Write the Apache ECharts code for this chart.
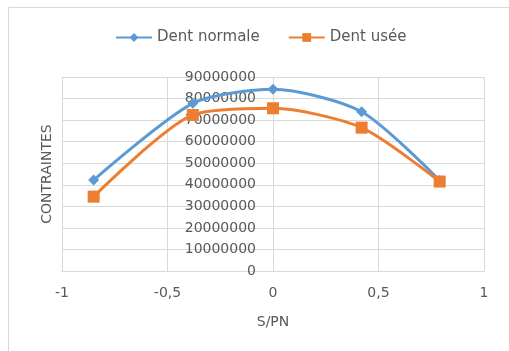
<!DOCTYPE html>
<html><head><meta charset="utf-8">
<script src="https://cdn.jsdelivr.net/npm/echarts@6/dist/echarts.min.js"></script>
<style>html,body{margin:0;padding:0;background:#fff}#c{width:509px;height:351px}</style>
</head><body><div id="c"></div>
<script>
var seriesNames = ['Dent normale', 'Dent usée'];
var xValues = [-0.85, -0.38, 0, 0.42, 0.79];
var normaleValues = [42200000, 77800000, 84300000, 73900000, 42000000];
var useeValues = [34500000, 72400000, 75500000, 66500000, 41500000];
var xTicks = [-1, -0.5, 0, 0.5, 1];

function pairs(xs, ys){ return xs.map(function(x,i){ return [x, ys[i]]; }); }
var font = 'DejaVu Sans';
var gridLeft = 62, gridRight = 25, W = 509;
// y axis sits at x = 0 (middle of the -1..1 range)
var yAxisOffset = -((W - gridLeft - gridRight) / 2);
var chart = echarts.init(document.getElementById('c'));
chart.setOption({
  animation: false,
  textStyle: {fontFamily: font},
  legend: {
    top: 25, left: 110, itemWidth: 36, itemHeight: 11, itemGap: 28,
    textStyle: {fontSize: 15, color: '#595959', fontFamily: font},
    data: seriesNames
  },
  grid: {left: gridLeft, right: gridRight, top: 77, bottom: 80, containLabel: false, outerBoundsMode: 'none'},
  xAxis: {
    type: 'value', min: -1, max: 1, interval: 0.5,
    name: 'S/PN', nameLocation: 'middle', nameGap: 44,
    nameTextStyle: {fontSize: 14, color: '#595959', fontFamily: font},
    axisLine: {show: true, onZero: false, lineStyle: {color: '#d9d9d9'}},
    axisTick: {show: false},
    axisLabel: {fontSize: 14, color: '#595959', margin: 15, fontFamily: font,
      formatter: function(v){ return String(v).replace('.', ','); }},
    splitLine: {show: true, lineStyle: {color: '#d9d9d9'}}
  },
  yAxis: {
    type: 'value', min: 0, max: 90000000, interval: 10000000,
    offset: yAxisOffset,
    name: 'CONTRAINTES', nameLocation: 'middle', nameGap: 219,
    nameTextStyle: {fontSize: 14, color: '#595959', fontFamily: font},
    axisLine: {show: true, onZero: false, lineStyle: {color: '#d9d9d9'}},
    axisTick: {show: false},
    axisLabel: {fontSize: 14, color: '#595959', margin: 17, fontFamily: font,
      formatter: function(v){ return String(v); }},
    splitLine: {show: true, lineStyle: {color: '#d9d9d9'}}
  },
  graphic: [
    {type: 'line', shape: {x1: 8.5, y1: 7.5, x2: 509, y2: 7.5}, style: {stroke: '#d9d9d9', lineWidth: 1}},
    {type: 'line', shape: {x1: 8.5, y1: 7.5, x2: 8.5, y2: 351}, style: {stroke: '#d9d9d9', lineWidth: 1}}
  ],
  series: [
    {name: seriesNames[0], type: 'line', smooth: 0.25, data: pairs(xValues, normaleValues),
     symbol: 'diamond', symbolSize: 11, color: '#5b9bd5',
     lineStyle: {width: 3, color: '#5b9bd5'}, itemStyle: {color: '#5b9bd5'}},
    {name: seriesNames[1], type: 'line', smooth: 0.25, data: pairs(xValues, useeValues),
     symbol: 'rect', symbolSize: 12, color: '#ed7d31',
     lineStyle: {width: 3, color: '#ed7d31'}, itemStyle: {color: '#ed7d31'}}
  ]
});
</script></body></html>
